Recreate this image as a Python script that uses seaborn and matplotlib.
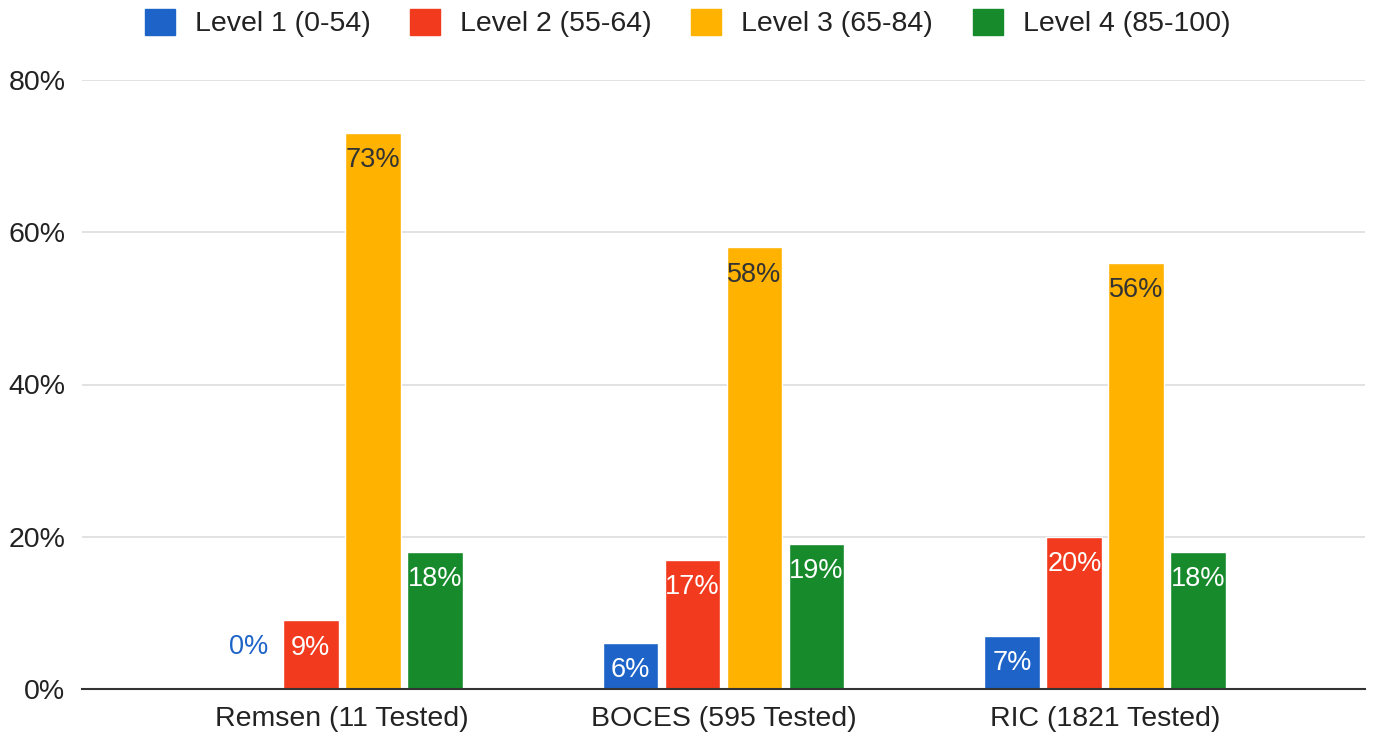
import matplotlib
matplotlib.use("Agg")
import matplotlib.pyplot as plt
import seaborn as sns
import pandas as pd
from matplotlib.patches import Patch

categories = ["Remsen (11 Tested)", "BOCES (595 Tested)", "RIC (1821 Tested)"]
levels = ["Level 1 (0-54)", "Level 2 (55-64)", "Level 3 (65-84)", "Level 4 (85-100)"]
level1 = [0, 6, 7]
level2 = [9, 17, 20]
level3 = [73, 58, 56]
level4 = [18, 19, 18]
yticks = [0, 20, 40, 60, 80]
ytick_labels = ["0%", "20%", "40%", "60%", "80%"]

colors = ["#1E64C8", "#F23A1E", "#FFB300", "#178A2C"]
label_colors = ["white", "white", "#333333", "white"]

rows = []
for lvl, vals in zip(levels, [level1, level2, level3, level4]):
    for c, v in zip(categories, vals):
        rows.append({"cat": c, "level": lvl, "value": v})
df = pd.DataFrame(rows)

sns.set_theme(style="white")
plt.rcParams["font.family"] = ["Liberation Sans", "DejaVu Sans"]

fig = plt.figure(figsize=(13.75, 7.38), dpi=100)
ax = fig.add_axes([82/1375, 1-689/738, (1365-82)/1375, (689-80)/738])

sns.barplot(data=df, x="cat", y="value", hue="level", order=categories,
            hue_order=levels, palette=colors, width=0.65, gap=0.1,
            saturation=1, ax=ax, legend=False, errorbar=None)

ax.set_xlim(-0.68, 2.68)
ax.set_ylim(0, 80)
ax.set_yticks(yticks)
ax.set_yticklabels(ytick_labels)
ax.tick_params(axis="y", labelsize=20.5, labelcolor="#222222", length=0, pad=12)
ax.tick_params(axis="x", labelsize=20.5, labelcolor="#222222", length=0, pad=12)
ax.set_xlabel("")
ax.set_ylabel("")
ax.yaxis.grid(True, color="#dddddd", linewidth=1.2)
ax.set_axisbelow(True)
for s in ["top", "right", "left"]:
    ax.spines[s].set_visible(False)
ax.spines["bottom"].set_color("#333333")
ax.spines["bottom"].set_linewidth(1.5)

for i, cont in enumerate(ax.containers):
    for bar in cont:
        h = bar.get_height()
        x = bar.get_x() + bar.get_width() / 2
        txt = f"{h:.0f}%"
        if h == 0:
            ax.annotate(txt, (x, h), xytext=(0, 30), textcoords="offset points",
                        ha="center", va="center", fontsize=19.5, color=colors[i])
        else:
            ax.annotate(txt, (x, h), xytext=(0, -19.5), textcoords="offset points",
                        ha="center", va="center", fontsize=19.5, color=label_colors[i])

handles = [Patch(facecolor=c, edgecolor=c, label=l) for c, l in zip(colors, levels)]
fig.legend(handles=handles, loc="center", bbox_to_anchor=(0.5, 1-23/738), ncol=4,
           frameon=False, fontsize=20.5, handlelength=1.05, handleheight=1.05,
           columnspacing=1.4, handletextpad=0.7, labelcolor="#222222",
           borderpad=0.2)

fig.savefig("out.png", dpi=100)
